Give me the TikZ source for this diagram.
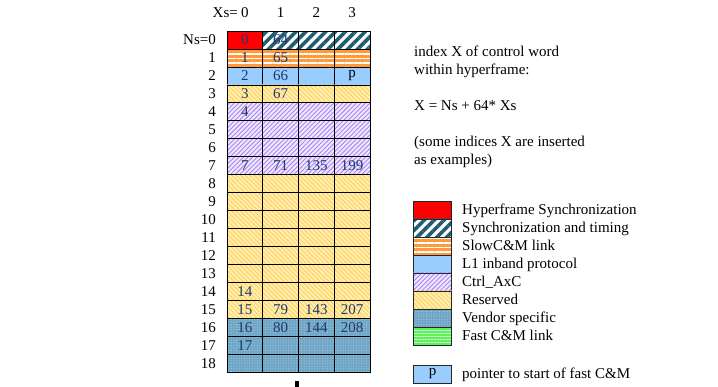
\documentclass[tikz,border=0pt]{standalone}
\usepackage{fontspec}
\setmainfont{Liberation Serif}
\usetikzlibrary{patterns.meta}

\definecolor{hfred}{HTML}{FF0000}
\definecolor{syncteal}{HTML}{1F5C72}
\definecolor{sloworange}{HTML}{FF9A3C}
\definecolor{lonblue}{HTML}{99CCFF}
\definecolor{resvbg}{HTML}{FFEEB4}
\definecolor{resvline}{HTML}{FFD45C}
\definecolor{ctrlbg}{HTML}{EFE6FF}
\definecolor{ctrlline}{HTML}{A985F2}
\definecolor{vendbg}{HTML}{6FA6C6}
\definecolor{venddot}{HTML}{A8CDE0}
\definecolor{fastgreen}{HTML}{5CF25C}
\definecolor{numblue}{HTML}{1F386E}

\begin{document}
\begin{tikzpicture}[x=1pt, y=-1pt, font=\fontsize{15}{18}\selectfont]
    \tikzset{
        cell/.style={draw=black, line width=0.7pt, minimum width=35.75pt, minimum height=17.95pt, inner sep=0pt},
        key/.style={draw=black!85, line width=0.8pt, minimum width=38pt, minimum height=18pt, inner sep=0pt},
        num/.style={text=numblue, inner sep=0pt},
        txt/.style={anchor=base west, inner sep=0pt},
        rowlab/.style={anchor=base east, inner sep=0pt},
        hsync/.style={fill=hfred},
        sync/.style={preaction={fill=white}, pattern={Lines[angle=45, distance=7pt, line width=3.6pt]}, pattern color=syncteal},
        slow/.style={preaction={fill=sloworange}, pattern={Lines[angle=0, distance=4.5pt, line width=1.3pt]}, pattern color=white},
        lone/.style={fill=lonblue},
        resv/.style={preaction={fill=resvbg}, pattern={Lines[angle=-45, distance=3.2pt, line width=1pt]}, pattern color=resvline},
        ctrl/.style={preaction={fill=ctrlbg}, pattern={Lines[angle=45, distance=3.2pt, line width=0.9pt]}, pattern color=ctrlline},
        vend/.style={preaction={fill=vendbg}, pattern={Dots[distance=2.6pt, radius=0.55pt]}, pattern color=venddot},
        fast/.style={preaction={fill=fastgreen}, pattern={Lines[angle=0, distance=3pt, line width=0.8pt]}, pattern color=white!70!fastgreen}
    }
    \useasboundingbox (0,0) rectangle (718,387);

    % control word table
    \node[cell, hsync] (c-0-0) at (244.9,40) {};
    \foreach \c in {1,2,3}
        \node[cell, sync] (c-0-\c) at ({244.9+35.75*\c},40) {};
    \foreach \r/\kind in {1/slow, 2/lone, 3/resv, 4/ctrl, 5/ctrl, 6/ctrl, 7/ctrl,
                          8/resv, 9/resv, 10/resv, 11/resv, 12/resv, 13/resv, 14/resv, 15/resv,
                          16/vend, 17/vend, 18/vend}
        \foreach \c in {0,...,3}
            \node[cell, \kind] (c-\r-\c) at ({244.9+35.75*\c},{40+17.95*\r}) {};

    \foreach \r/\c/\t in {0/0/0, 0/1/64, 1/0/1, 1/1/65, 2/0/2, 2/1/66, 3/0/3, 3/1/67, 4/0/4,
                          7/0/7, 7/1/71, 7/2/135, 7/3/199, 14/0/14,
                          15/0/15, 15/1/79, 15/2/143, 15/3/207,
                          16/0/16, 16/1/80, 16/2/144, 16/3/208, 17/0/17}
        \node[num] (t-\r-\c) at (c-\r-\c) {\t};
    \node[inner sep=0pt] (t-2-3) at (c-2-3) {p};

    % axes labels
    \node[rowlab] (xs) at (238,18) {Xs=};
    \foreach \c in {0,...,3}
        \node[anchor=base, inner sep=0pt] (xs-\c) at ({244.9+35.75*\c},18) {\c};
    \node[rowlab] (ns-0) at (216,45) {Ns=0};
    \foreach \r in {1,...,18}
        \node[rowlab] (ns-\r) at (216,{45+17.95*\r}) {\r};

    \fill (295,381) rectangle (299,387);

    % explanation
    \node[txt] (expl1) at (414,57) {index X of control word};
    \node[txt] (expl2) at (414,75) {within hyperframe:};
    \node[txt] (formula) at (414,111) {X = Ns + 64* Xs};
    \node[txt] (note1) at (414,147) {(some indices X are inserted};
    \node[txt] (note2) at (414,165) {as examples)};

    % legend
    \foreach \i/\kind/\name in {0/hsync/Hyperframe Synchronization, 1/sync/Synchronization and timing,
                                2/slow/SlowC\&M link, 3/lone/L1 inband protocol, 4/ctrl/Ctrl\_AxC,
                                5/resv/Reserved, 6/vend/Vendor specific, 7/fast/Fast C\&M link} {
        \node[key, \kind] (key-\i) at (432.5,{210+18*\i}) {};
        \node[txt] (lab-\i) at (462,{215+18*\i}) {\name};
    }
    \node[key, lone] (key-p) at (432.5,374) {p};
    \node[txt] (lab-p) at (462,379) {pointer to start of fast C\&M};
\end{tikzpicture}
\end{document}
